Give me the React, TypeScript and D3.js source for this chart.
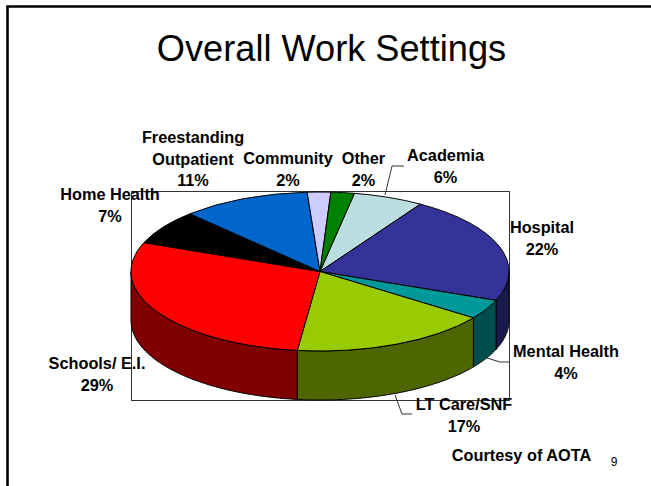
import * as d3 from "d3";

const categories = ["Academia", "Hospital", "Mental Health", "LT Care/SNF", "Schools/ E.I.", "Home Health", "Freestanding Outpatient", "Community", "Other"];
const percents = [6, 22, 4, 17, 29, 7, 11, 2, 2];
const topColors = ["#BBDFE0", "#333399", "#009999", "#99CC00", "#FF0000", "#000000", "#0066CC", "#CCCCFF", "#008000"];
const sideColors = ["#5E7070", "#1A1A4D", "#004D4D", "#4D6600", "#800000", "#000000", "#003366", "#666680", "#004000"];

// label lines and where each block sits (centre x, first baseline)
const labelLines = [["Academia"], ["Hospital"], ["Mental Health"], ["LT Care/SNF"], ["Schools/ E.I."], ["Home Health"], ["Freestanding", "Outpatient"], ["Community"], ["Other"]];
const labelPos = [[445.5, 161], [542, 233], [566, 357], [464, 410], [97, 369], [110, 200], [193, 143], [288, 164], [363.5, 164]];

const cx = 320, cy = 271.5, rx = 189, ry = 79.5, depth = 49;
const startAngle = (10.5 * Math.PI) / 180;

export default function App() {
  const pie = d3.pie<number>().sort(null).startAngle(startAngle).endAngle(startAngle + 2 * Math.PI);
  const slices = pie(percents);
  const arc = d3.arc<d3.PieArcDatum<number>>().innerRadius(0).outerRadius(rx);

  // side wall: only the front half of the rim (pi/2 .. 3pi/2 clockwise from top)
  const wall = d3
    .area<number>()
    .x((a) => rx * Math.sin(a))
    .y0((a) => -ry * Math.cos(a))
    .y1((a) => -ry * Math.cos(a) + depth);

  const walls = slices.map((s) => {
    const a0 = Math.max(s.startAngle, Math.PI / 2);
    const a1 = Math.min(s.endAngle, (3 * Math.PI) / 2);
    if (a1 <= a0) return null;
    const n = 40;
    return wall(d3.range(n + 1).map((i) => a0 + ((a1 - a0) * i) / n));
  });

  const leaders = [
    [[385, 195], [392, 166], [404, 166]],
    [[487, 358], [500, 362], [509, 362]],
    [[395, 395], [402, 414], [412, 414]],
  ];
  const leader = d3.line();

  return (
    <svg width={651} height={486} style={{ position: "absolute", left: 0, top: 0, background: "#fff" }} fontFamily="'Liberation Sans', Arial, sans-serif">
      <path d="M7.5 486V6.5H651" fill="none" stroke="#000" strokeWidth={2.6} />
      <text x={331.5} y={61} textAnchor="middle" fontSize={36.2} fill="#000">Overall Work Settings</text>

      <rect x={131.5} y={191.5} width={378} height={209} fill="none" stroke="#333" strokeWidth={1} />

      <g transform={`translate(${cx},${cy})`}>
        {walls.map((d, i) => d && <path key={i} d={d} fill={sideColors[i]} stroke="#000" strokeWidth={1} />)}
        <g transform={`scale(1,${ry / rx})`}>
          {slices.map((s, i) => (
            <path key={categories[i]} d={arc(s) as string} fill={topColors[i]} stroke="#000" strokeWidth={1} vectorEffect="non-scaling-stroke" />
          ))}
        </g>
      </g>

      {leaders.map((l, i) => (
        <path key={i} d={leader(l as [number, number][]) as string} fill="none" stroke="#333" strokeWidth={1} />
      ))}

      <g fontSize={16.3} fontWeight="bold" textAnchor="middle" fill="#000">
        {categories.map((c, i) => {
          const [x, y] = labelPos[i];
          const lines = [...labelLines[i], `${percents[i]}%`];
          return (
            <text key={c}>
              {lines.map((t, j) => (
                <tspan key={j} x={x} y={y + j * 21.5}>{t}</tspan>
              ))}
            </text>
          );
        })}
        <text x={521.5} y={461}>Courtesy of AOTA</text>
      </g>
      <text x={614} y={466} textAnchor="middle" fontSize={12}>9</text>
    </svg>
  );
}
